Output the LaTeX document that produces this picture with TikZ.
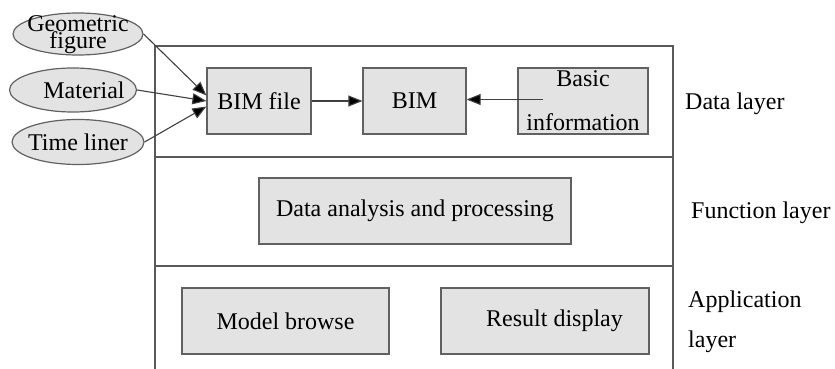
\documentclass[tikz,border=0pt]{standalone}
\usepackage{fontspec}
\setmainfont{Liberation Serif}
\usetikzlibrary{arrows.meta,shapes.geometric}
\begin{document}
\begin{tikzpicture}[x=1pt,y=-1pt,
  every node/.style={font=\fontsize{24}{28}\selectfont},
  box/.style={draw=black!62, fill=black!11, line width=1.2pt, inner sep=0pt},
  ell/.style={ellipse, draw=black!62, fill=black!11, line width=1.2pt, inner sep=0pt},
  frame/.style={draw=black!65, line width=1.3pt},
  arr/.style={draw=black!75, line width=1.1pt, -{Triangle[length=14pt,width=11pt,fill=black]}},
  lbl/.style={anchor=base west, inner sep=0pt}]
\useasboundingbox (0,0) rectangle (835,369);
% frame
\draw[frame] (155,369) -- (155,46) -- (673,46) -- (673,369);
\draw[frame] (155,157) -- (673,157);
\draw[frame] (155,266) -- (673,266);
% ellipses
\node[ell, minimum width=130pt, minimum height=42pt] (geo) at (78,34)
  {\raisebox{-15pt}[0pt][0pt]{\vbox{\baselineskip=17pt\lineskiplimit=-100pt
   \hbox to 0pt{\hss Geometric\hss}\hbox to 0pt{\hss figure\hss}}}};
\node[ell, minimum width=127pt, minimum height=44pt] (mat) at (73,90)
  {\makebox[0pt]{\hspace*{22pt}Material}};
\node[ell, minimum width=132pt, minimum height=45pt] (tim) at (78,142)
  {\makebox[0pt]{Time liner}};
% data layer boxes
\node[box, minimum width=104pt, minimum height=66pt] (bimfile) at (259,101) {BIM file};
\node[box, minimum width=103pt, minimum height=66pt] (bim) at (414.5,101) {BIM};
\node[box, minimum width=130pt, minimum height=66pt, align=center,
  font=\fontsize{24}{44}\selectfont] (basic) at (583,101) {Basic\\information};
\coordinate (bsrc) at (543,99.5);
% function layer
\node[box, minimum width=312pt, minimum height=66pt] (dap) at (415,211) {Data analysis and processing};
% application layer
\node[box, minimum width=207pt, minimum height=66pt] (mod) at (285.5,321) {Model browse};
\node[box, minimum width=208pt, minimum height=66pt] (res) at (545,321) {\hspace*{19pt}Result display};
% arrows
\draw[arr] (geo.east) -- (bimfile.174);
\draw[arr] (mat.east) -- (bimfile.west);
\draw[arr] (tim.east) -- (bimfile.186);
\draw[arr] (bimfile.east) -- (bim.west);
\draw[arr] (bsrc) -- (bim.east |- bsrc);
% layer labels
\node[lbl] (ldata) at (685,109) {Data layer};
\node[lbl] (lfunc) at (691,218) {Function layer};
\node[lbl] (lapp1) at (688,307) {Application};
\node[lbl] (lapp2) at (688,347) {layer};
\end{tikzpicture}
\end{document}
